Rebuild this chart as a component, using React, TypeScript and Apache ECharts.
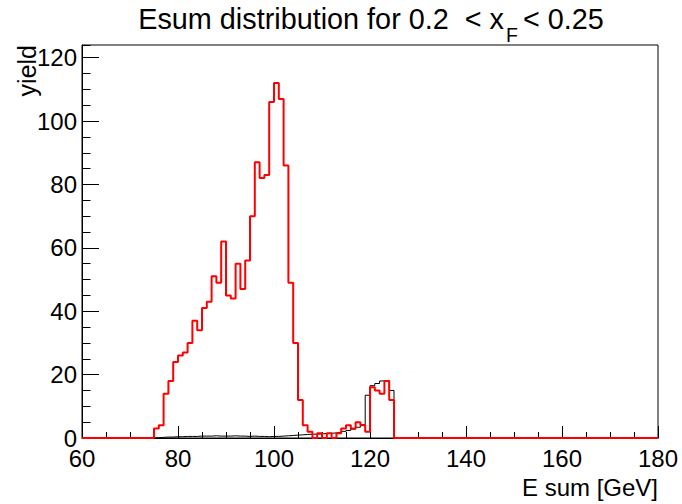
import React, { useEffect, useRef } from "react";
import * as echarts from "echarts";

// Histogram range (GeV) and binning
const xMin = 60;
const xMax = 180;
const binWidth = 1;
const firstBin = 75; // low edge of first listed bin

// Red histogram, bins 75..124 GeV
const redCounts = [
  3, 4, 14, 18, 24, 26, 27, 30, 37, 34,
  41, 43, 51, 49, 62, 45, 44, 55, 47, 56,
  70, 87, 82, 83, 106, 112, 107, 86, 49, 30,
  12, 4, 2, 0, 1.5, 0, 1.5, 0, 1.5, 3,
  4, 3, 5, 4, 2, 16, 15, 14, 18, 12,
];

// Black histogram, bins 75..124 GeV
const blackCounts = [
  0.1, 0.2, 0.3, 0.3, 0.4, 0.4, 0.5, 0.5, 0.5, 0.6,
  0.6, 0.6, 0.7, 0.6, 0.6, 0.6, 0.7, 0.6, 0.6, 0.5,
  0.6, 0.5, 0.5, 0.4, 0.5, 0.5, 0.6, 0.7, 0.8, 0.9,
  1.0, 1.1, 1.2, 1.2, 1.3, 1.4, 1.5, 1.6, 1.8, 2.1,
  2.4, 2.8, 3.4, 4.2, 13.5, 16.5, 17.2, 18, 18.2, 15,
];

const yMax = 124;
const xMajor = 20;
const yMajor = 20;
const yMinor = 5;

const titleMain = "Esum distribution for 0.2  < x";
const titleSub = "F";
const titleTail = "< 0.25";
const xTitle = "E sum [GeV]";
const yTitle = "yield";

const FONT = "'Liberation Sans', Arial, Helvetica, sans-serif";
const TITLE_SIZE = 28.8;
const SUB_SIZE = 19.5;

function measure(text: string, font: string): number {
  const c = document.createElement("canvas");
  const ctx = c.getContext("2d");
  if (!ctx) return text.length * 12;
  ctx.font = font;
  return ctx.measureText(text).width;
}

function buildSteps(counts: number[]): [number, number][] {
  const pts: [number, number][] = [];
  const nBins = Math.round((xMax - xMin) / binWidth);
  for (let i = 0; i < nBins; i++) {
    const lo = xMin + i * binWidth;
    const k = Math.round((lo - firstBin) / binWidth);
    const v = k >= 0 && k < counts.length ? counts[k] : 0;
    pts.push([lo, v]);
  }
  pts.push([xMax, pts[pts.length - 1][1]]);
  return pts;
}

export default function App() {
  const ref = useRef<HTMLDivElement>(null);

  useEffect(() => {
    if (!ref.current) return;
    const chart = echarts.init(ref.current, undefined, { renderer: "svg" });
    const axisLine = { show: true, lineStyle: { color: "#000", width: 1 } };

    const mainFont = `${TITLE_SIZE}px ${FONT}`;
    const subFont = `${SUB_SIZE}px ${FONT}`;
    const wMain = measure(titleMain, mainFont);
    const wSub = measure(titleSub, subFont);
    const wTail = measure(titleTail, mainFont);
    const gap1 = 2;
    const gap2 = 5;
    const total = wMain + gap1 + wSub + gap2 + wTail;
    const titleCenter = 371;
    const x0 = titleCenter - total / 2;
    const xSub = x0 + wMain + gap1;
    const xTail = xSub + wSub + gap2;

    chart.setOption({
      animation: false,
      backgroundColor: "#fff",
      grid: {
        left: 82,
        right: 24,
        top: 45,
        bottom: 66,
        show: true,
        borderColor: "#000",
        borderWidth: 1,
        backgroundColor: "transparent",
      },
      xAxis: {
        type: "value",
        min: xMin,
        max: xMax,
        interval: xMajor,
        axisLine: { ...axisLine, onZero: false },
        axisTick: { show: true, inside: true, length: 12, lineStyle: { color: "#000" } },
        minorTick: { show: true, splitNumber: 4, length: 6, lineStyle: { color: "#000" } },
        splitLine: { show: false },
        minorSplitLine: { show: false },
        axisLabel: { fontSize: 24, lineHeight: 18, color: "#000", fontFamily: FONT, margin: 11 },
      },
      yAxis: [
        {
          type: "value",
          min: 0,
          max: yMax,
          interval: yMajor,
          position: "left",
          axisLine,
          axisTick: { show: true, inside: true, length: 17, lineStyle: { color: "#000" } },
          splitLine: { show: false },
          axisLabel: {
            fontSize: 24,
            lineHeight: 16,
            color: "#000",
            fontFamily: FONT,
            margin: 5,
            showMaxLabel: false,
            formatter: (v: number) => (v % yMajor === 0 ? String(v) : ""),
          },
        },
        {
          type: "value",
          min: 0,
          max: yMax,
          interval: yMinor,
          position: "left",
          axisLine: { show: false },
          axisTick: { show: true, inside: true, length: 8.5, lineStyle: { color: "#000" } },
          splitLine: { show: false },
          axisLabel: { show: false },
        },
      ],
      series: [
        {
          type: "line",
          name: "black",
          step: "end",
          symbol: "none",
          data: buildSteps(blackCounts),
          lineStyle: { color: "#000", width: 1 },
          z: 2,
        },
        {
          type: "line",
          name: "red",
          step: "end",
          symbol: "none",
          data: buildSteps(redCounts),
          lineStyle: { color: "#ff0000", width: 2 },
          z: 3,
        },
      ],
      graphic: [
        {
          type: "text",
          x: x0,
          y: 19,
          style: {
            text: titleMain,
            font: mainFont,
            fill: "#000",
            align: "left",
            verticalAlign: "middle",
          },
        },
        {
          type: "text",
          x: xSub,
          y: 35,
          style: {
            text: titleSub,
            font: subFont,
            fill: "#000",
            align: "left",
            verticalAlign: "middle",
          },
        },
        {
          type: "text",
          x: xTail,
          y: 19,
          style: {
            text: titleTail,
            font: mainFont,
            fill: "#000",
            align: "left",
            verticalAlign: "middle",
          },
        },
        {
          type: "text",
          x: 658,
          y: 487,
          style: {
            text: xTitle,
            font: `24px ${FONT}`,
            fill: "#000",
            align: "right",
            verticalAlign: "middle",
          },
        },
        {
          type: "text",
          x: 27,
          y: 45,
          rotation: Math.PI / 2,
          style: {
            text: yTitle,
            font: `25px ${FONT}`,
            fill: "#000",
            align: "right",
            verticalAlign: "middle",
          },
        },
      ],
    });
    return () => chart.dispose();
  }, []);

  return (
    <div
      ref={ref}
      style={{ position: "fixed", left: 0, top: 0, width: 682, height: 504, background: "#fff" }}
    />
  );
}
